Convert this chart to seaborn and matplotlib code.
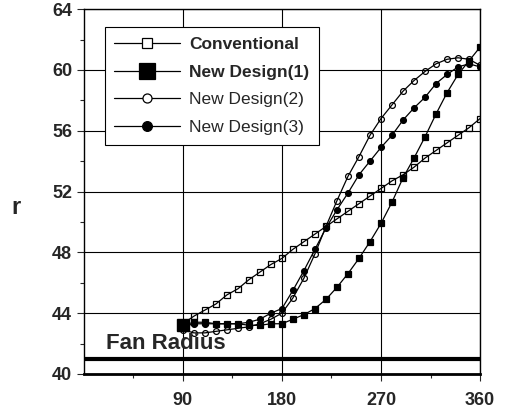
import matplotlib
matplotlib.use("Agg")
import matplotlib.pyplot as plt
from matplotlib.lines import Line2D
import seaborn as sns
import pandas as pd

# ----------------------------------------------------------------------------
# Data
# ----------------------------------------------------------------------------
angles = [90, 100, 110, 120, 130, 140, 150, 160, 170, 180,
          190, 200, 210, 220, 230, 240, 250, 260, 270, 280,
          290, 300, 310, 320, 330, 340, 350, 360]

conventional = [43.3, 43.8, 44.2, 44.6, 45.2, 45.6, 46.2, 46.7, 47.2, 47.6,
                48.2, 48.7, 49.2, 49.7, 50.2, 50.7, 51.2, 51.7, 52.2, 52.7,
                53.1, 53.6, 54.2, 54.7, 55.2, 55.7, 56.2, 56.8]
design1 = [43.2, 43.4, 43.4, 43.3, 43.3, 43.3, 43.2, 43.2, 43.3, 43.3,
           43.6, 43.9, 44.3, 44.9, 45.7, 46.6, 47.6, 48.7, 49.9, 51.3,
           52.9, 54.2, 55.6, 57.1, 58.5, 59.7, 60.6, 61.5]
design2 = [42.9, 42.7, 42.7, 42.8, 42.9, 43.0, 43.1, 43.3, 43.6, 44.0,
           45.0, 46.3, 47.9, 49.7, 51.4, 53.0, 54.3, 55.7, 56.8, 57.7,
           58.6, 59.3, 59.9, 60.4, 60.7, 60.8, 60.7, 60.3]
design3 = [43.1, 43.3, 43.3, 43.3, 43.3, 43.3, 43.4, 43.6, 44.0, 44.3,
           45.5, 46.8, 48.2, 49.6, 50.8, 51.9, 53.1, 54.0, 54.9, 55.7,
           56.7, 57.5, 58.2, 59.1, 59.7, 60.2, 60.4, 60.2]

series_names = ["Conventional", "New Design(1)", "New Design(2)", "New Design(3)"]
fan_radius = 41

x_ticks = [90, 180, 270, 360]
y_ticks = [40, 44, 48, 52, 56, 60, 64]

# marker style per series: (marker, filled, size in plot, size in legend)
STYLES = {
    "Conventional": ("s", False, 4.3, 7.5),
    "New Design(1)": ("s", True, 4.5, 12),
    "New Design(2)": ("o", False, 4.2, 6.5),
    "New Design(3)": ("o", True, 4.2, 7),
}

# ----------------------------------------------------------------------------
# Plot
# ----------------------------------------------------------------------------
sns.set_style("white")
plt.rcParams["font.family"] = ["Liberation Sans", "DejaVu Sans"]

df = pd.DataFrame({
    "angle": angles * 4,
    "r": conventional + design1 + design2 + design3,
    "series": sum([[n] * len(angles) for n in series_names], []),
})

fig = plt.figure(figsize=(5.08, 4.15), dpi=100)
ax = fig.add_axes([0.165, 0.099, 0.78, 0.879])

for name in series_names:
    marker, filled, ms, _ = STYLES[name]
    sub = df[df["series"] == name]
    sns.lineplot(
        data=sub, x="angle", y="r", ax=ax,
        color="black", linewidth=0.9,
        marker=marker, markersize=ms,
        markerfacecolor="black" if filled else "none",
        markeredgecolor="black", markeredgewidth=0.9,
        legend=False,
    )

# the first point of design (1) is drawn as a big square in the original
ax.plot(angles[0], design1[0], "s", color="black", markersize=9)

# fan radius line + label
ax.axhline(fan_radius, color="black", linewidth=3)
ax.text(20, fan_radius + 0.3, "Fan Radius", fontsize=16, fontweight="bold",
        ha="left", va="bottom")

ax.set_xlim(0, 360)
ax.set_ylim(40, 64)
ax.set_xticks(x_ticks)
ax.set_yticks(y_ticks)
ax.set_xticks([45, 135, 225, 315], minor=True)
ax.set_yticks([42, 46, 50, 54, 58, 62], minor=True)
ax.grid(True, which="major", color="black", linewidth=0.8)
ax.tick_params(axis="both", which="major", labelsize=13, length=5, width=0.8,
               direction="out", left=True, bottom=True)
ax.tick_params(axis="x", which="major", pad=8)
ax.tick_params(axis="both", which="minor", length=3, width=0.8,
               direction="out", left=True, bottom=True)
for lbl in ax.get_xticklabels() + ax.get_yticklabels():
    lbl.set_fontweight("bold")
for sp in ax.spines.values():
    sp.set_color("black")
    sp.set_linewidth(1.0)
ax.spines["bottom"].set_linewidth(2.0)

ax.set_xlabel("")
ax.set_ylabel("r", fontsize=17, fontweight="bold", rotation=0, va="center")
ax.yaxis.set_label_coords(-0.17, 0.455)

# legend
handles = []
for name in series_names:
    marker, filled, _, lms = STYLES[name]
    handles.append(Line2D([0], [0], color="black", linewidth=0.9,
                          marker=marker, markersize=lms,
                          markerfacecolor="black" if filled else "white",
                          markeredgecolor="black", markeredgewidth=0.9))
leg = ax.legend(handles, series_names, loc="upper left",
                bbox_to_anchor=(0.053, 0.95), borderaxespad=0,
                fontsize=12.5, handlelength=3.8,
                handletextpad=0.5, labelspacing=0.72, frameon=True,
                fancybox=False, edgecolor="black", framealpha=1,
                borderpad=0.55)
leg.get_frame().set_linewidth(0.8)
for i, t in enumerate(leg.get_texts()):
    if i < 2:
        t.set_fontweight("bold")

fig.savefig("out.png", dpi=100)
